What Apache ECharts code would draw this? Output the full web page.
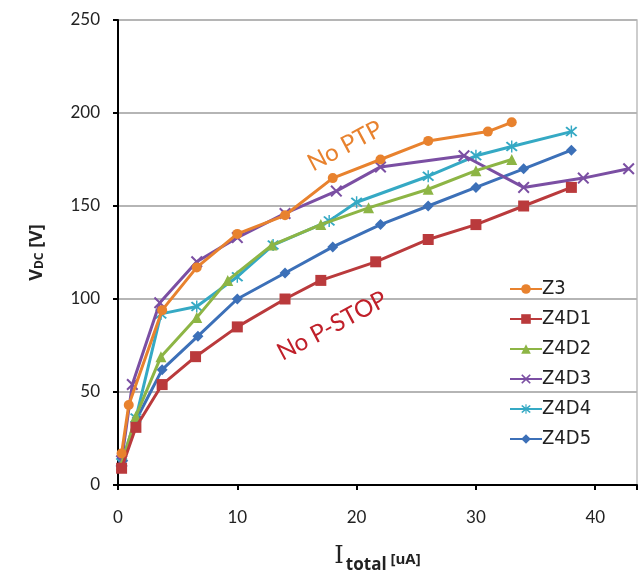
<!DOCTYPE html>
<html>
<head>
<meta charset="utf-8">
<script src="https://cdn.jsdelivr.net/npm/echarts@6/dist/echarts.min.js"></script>
<style>html,body{margin:0;padding:0;background:#fff}#c{width:643px;height:579px}</style>
</head>
<body>
<div id="c"></div>
<script>
// ---- data ----
const seriesNames = ['Z3', 'Z4D1', 'Z4D2', 'Z4D3', 'Z4D4', 'Z4D5'];
const z3_x   = [0.3, 0.9, 3.7, 6.6, 10, 14, 18, 22, 26, 31, 33];
const z3_y   = [17, 43, 94, 117, 135, 145, 165, 175, 185, 190, 195];
const z4d1_x = [0.3, 1.5, 3.7, 6.5, 10, 14, 17, 21.6, 26, 30, 34, 38];
const z4d1_y = [9, 31, 54, 69, 85, 100, 110, 120, 132, 140, 150, 160];
const z4d2_x = [0.3, 1.5, 3.6, 6.6, 9.2, 12.9, 17, 21, 26, 30, 33];
const z4d2_y = [11, 37, 69, 90, 110, 129, 140, 149, 159, 169, 175];
const z4d3_x = [0.3, 1.2, 3.5, 6.6, 10, 14, 18.3, 22, 29, 34, 39, 42.8];
const z4d3_y = [13, 54, 98, 120, 133, 146, 158, 171, 177, 160, 165, 170];
const z4d4_x = [0.3, 1.5, 3.6, 6.6, 10, 13, 17.7, 20, 26, 30, 33, 38];
const z4d4_y = [12, 36, 92, 96, 112, 129, 142, 152, 166, 177, 182, 190];
const z4d5_x = [0.4, 1.6, 3.7, 6.7, 10, 14, 18, 22, 26, 30, 34, 38];
const z4d5_y = [13, 36, 62, 80, 100, 114, 128, 140, 150, 160, 170, 180];
const xTicks = [0, 10, 20, 30, 40];
const yTicks = [0, 50, 100, 150, 200, 250];
const annoText1 = 'No PTP';
const annoText2 = 'No P-STOP';

const colors = ['#E8822E', '#BA3A3C', '#8DB545', '#7B4FA3', '#35A9C4', '#3C70B8'];
const xSym = 'path://M0,1.2 L1.2,0 L5,3.8 L8.8,0 L10,1.2 L6.2,5 L10,8.8 L8.8,10 L5,6.2 L1.2,10 L0,8.8 L3.8,5 Z';
const starSym = 'path://M0,1.2 L1.2,0 L5,3.8 L8.8,0 L10,1.2 L6.2,5 L10,8.8 L8.8,10 L5,6.2 L1.2,10 L0,8.8 L3.8,5 Z M4.4,-1 L5.6,-1 L5.6,11 L4.4,11 Z';
const symbols = ['circle', 'rect', 'triangle', xSym, starSym, 'diamond'];
const symSizes = [10, 11, 11, 12, 12, 11];
const xs = [z3_x, z4d1_x, z4d2_x, z4d3_x, z4d4_x, z4d5_x];
const ys = [z3_y, z4d1_y, z4d2_y, z4d3_y, z4d4_y, z4d5_y];

const FONT = 'Lato, "Open Sans", sans-serif';
const BFONT = '"Open Sans", "Liberation Sans", sans-serif';

const series = seriesNames.map((n, i) => ({
  name: n,
  type: 'line',
  data: xs[i].map((x, k) => [x, ys[i][k]]),
  symbol: symbols[i],
  symbolSize: symSizes[i],
  showSymbol: true,
  lineStyle: { width: 3, color: colors[i] },
  itemStyle: { color: colors[i] },
  z: 10 - i,
  animation: false
}));

const chart = echarts.init(document.getElementById('c'), null, { renderer: 'canvas' });
chart.setOption({
  backgroundColor: '#fff',
  animation: false,
  grid: { left: 118, top: 20, right: 6, bottom: 94, show: true, borderColor: '#bdbdbd', borderWidth: 1.5,
          containLabel: false, outerBoundsMode: 'none' },
  xAxis: {
    type: 'value', min: 0, max: 43.5, interval: 10,
    axisLine: { show: true, onZero: false, lineStyle: { color: '#000', width: 2 } },
    axisTick: { show: true, length: 5, lineStyle: { color: '#000', width: 2 } },
    axisLabel: { fontSize: 17, color: '#222', fontFamily: FONT, margin: 24,
      formatter: v => xTicks.includes(v) ? String(v) : '' },
    splitLine: { show: false },
    name: '{i|I}{t|total}{u| [uA]}',
    nameLocation: 'middle', nameGap: 60,
    nameTextStyle: {
      fontWeight: 'bold', fontFamily: BFONT,
      rich: {
        i: { fontFamily: '"DejaVu Serif", serif', fontWeight: 'normal', fontSize: 24, color: '#222', verticalAlign: 'bottom' },
        t: { fontFamily: BFONT, fontWeight: 'bold', fontSize: 17, color: '#222', verticalAlign: 'bottom', padding: [0, 0, -5, 2] },
        u: { fontFamily: BFONT, fontWeight: 'bold', fontSize: 15, color: '#222', verticalAlign: 'bottom', padding: [0, 0, 2, 0] }
      }
    }
  },
  yAxis: {
    type: 'value', min: 0, max: 250, interval: 50,
    axisLine: { show: true, lineStyle: { color: '#000', width: 2 } },
    axisTick: { show: true, length: 5, lineStyle: { color: '#000', width: 2 } },
    axisLabel: { fontSize: 17, color: '#222', fontFamily: FONT, margin: 18,
      formatter: v => yTicks.includes(v) ? String(v) : '' },
    splitLine: { show: true, lineStyle: { color: '#b5b5b5', width: 2 } },
    name: '{v|V}{d|DC}{v| [V]}',
    nameLocation: 'middle', nameGap: 72, nameRotate: 90,
    nameTextStyle: {
      fontWeight: 'bold', fontFamily: BFONT,
      rich: {
        v: { fontFamily: BFONT, fontWeight: 'bold', fontSize: 18, color: '#222' },
        d: { fontFamily: BFONT, fontWeight: 'bold', fontSize: 12, color: '#222', padding: [6, 0, 0, 0] }
      }
    }
  },
  legend: {
    data: seriesNames,
    orient: 'vertical',
    left: 504, top: 274,
    itemWidth: 32, itemHeight: 12, itemGap: 10,
    textStyle: { fontSize: 20, lineHeight: 20, color: '#222', fontFamily: '"Liberation Sans Narrow", "DejaVu Sans Condensed", ' + FONT, padding: [0, 0, 0, -5] }
  },
  graphic: [
    { type: 'text', x: 345, y: 146, rotation: 28 * Math.PI / 180,
      style: { text: annoText1, fill: '#E8822E', font: '24px ' + FONT, textAlign: 'center', textVerticalAlign: 'middle' }, z: 100 },
    { type: 'text', x: 332, y: 326, rotation: 28 * Math.PI / 180,
      style: { text: annoText2, fill: '#C0202A', font: '24px ' + FONT, textAlign: 'center', textVerticalAlign: 'middle' }, z: 100 }
  ],
  series: series
});
</script>
</body>
</html>
